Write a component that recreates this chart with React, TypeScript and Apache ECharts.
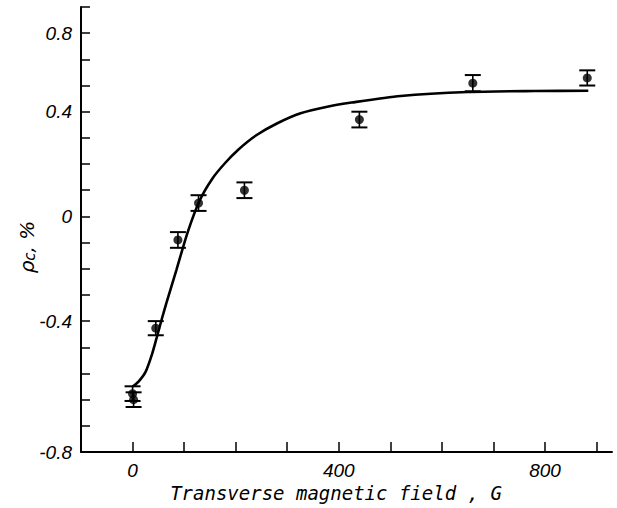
import React, { useEffect, useRef } from "react";
import * as echarts from "echarts";

// Measured points (x in G, y in %), with symmetric error
const pointX = [0, 2, 45, 88, 128, 217, 440, 660, 882];
const pointY = [-0.677, -0.7, -0.427, -0.09, 0.051, 0.1, 0.37, 0.509, 0.529];
const pointErr = [0.028, 0.028, 0.027, 0.03, 0.03, 0.03, 0.03, 0.031, 0.029];

// Fitted curve
const curveX = [0, 12, 25, 38, 48, 57, 65, 85, 107, 130, 155, 180, 205, 240, 280, 326, 380, 425, 520, 650, 780, 884];
const curveY = [-0.65, -0.63, -0.595, -0.525, -0.455, -0.39, -0.335, -0.205, -0.06, 0.06, 0.145, 0.205, 0.255, 0.31, 0.355, 0.394, 0.42, 0.435, 0.46, 0.475, 0.479, 0.48];

// Axis ticks and labels
const xTickValues = [0, 100, 200, 300, 400, 500, 600, 700, 800, 900];
const xLabelValues = [0, 400, 800];
const yTickValues = [-0.9, -0.8, -0.7, -0.6, -0.5, -0.4, -0.3, -0.2, -0.1, 0, 0.1, 0.2, 0.3, 0.4, 0.5, 0.6, 0.7, 0.8];
const yLabelValues = [-0.9, -0.4, 0, 0.4, 0.7];
const yLabelTexts = ["-0.8", "-0.4", "0", "0.4", "0.8"];

const labelFont = "'Liberation Sans', Arial, sans-serif";

export default function App() {
  const ref = useRef<HTMLDivElement>(null);
  useEffect(() => {
    if (!ref.current) return;
    const chart = echarts.init(ref.current, null, { renderer: "svg" });
    const errData = pointX.map((x, i) => [x, pointY[i] - pointErr[i], pointY[i] + pointErr[i]]);
    const scatterData = pointX.map((x, i) => [x, pointY[i]]);
    const curveData = curveX.map((x, i) => [x, curveY[i]]);
    chart.setOption({
      animation: false,
      backgroundColor: "#fff",
      grid: { left: 81, right: 5, top: 7, bottom: 56, containLabel: false },
      xAxis: {
        type: "value",
        min: -100,
        max: 930,
        interval: 100,
        splitLine: { show: false },
        axisLine: { onZero: false, lineStyle: { color: "#000", width: 2 } },
        axisTick: {
          inside: true,
          length: 10,
          customValues: xTickValues,
          lineStyle: { color: "#000", width: 1.5 },
        },
        axisLabel: {
          customValues: xLabelValues,
          margin: 9,
          color: "#000",
          fontSize: 19,
          fontStyle: "italic",
          fontFamily: labelFont,
        },
      },
      yAxis: {
        type: "value",
        min: -0.9,
        max: 0.8,
        interval: 0.1,
        splitLine: { show: false },
        axisLine: { onZero: false, lineStyle: { color: "#000", width: 2 } },
        axisTick: {
          inside: true,
          length: 9,
          customValues: yTickValues,
          lineStyle: { color: "#000", width: 1.5 },
        },
        axisLabel: {
          customValues: yLabelValues,
          margin: 9,
          color: "#000",
          fontSize: 19,
          fontStyle: "italic",
          fontFamily: labelFont,
          formatter: (v: number) => {
            const i = yLabelValues.findIndex((u) => Math.abs(u - v) < 1e-6);
            return i >= 0 ? yLabelTexts[i] : "";
          },
        },
      },
      graphic: [
        {
          type: "text",
          x: 336,
          y: 493,
          style: {
            text: "Transverse magnetic field , G",
            font: "italic 19px 'DejaVu Sans Mono', monospace",
            fill: "#000",
            align: "center",
            verticalAlign: "middle",
          },
        },
        {
          type: "text",
          x: 27,
          y: 247,
          rotation: Math.PI / 2,
          style: {
            text: "{a|ρ}{b|c}{a|, %}",
            fill: "#000",
            align: "center",
            verticalAlign: "middle",
            rich: {
              a: { fontSize: 20, fontStyle: "italic", fontFamily: "'DejaVu Sans', sans-serif", fill: "#000" },
              b: { fontSize: 15, fontStyle: "italic", fontFamily: "'DejaVu Sans', sans-serif", fill: "#000", verticalAlign: "bottom" },
            },
          },
        },
      ],
      series: [
        {
          type: "line",
          data: curveData,
          smooth: 0.25,
          showSymbol: false,
          symbol: "none",
          lineStyle: { color: "#000", width: 2.6 },
          z: 2,
        },
        {
          type: "custom",
          data: errData,
          encode: { x: 0, y: [1, 2] },
          z: 3,
          renderItem: (params: any, api: any) => {
            const x = api.value(0);
            const lo = api.coord([x, api.value(1)]);
            const hi = api.coord([x, api.value(2)]);
            const hw = 8;
            const st = { stroke: "#000", lineWidth: 1.6 };
            return {
              type: "group",
              children: [
                { type: "line", shape: { x1: lo[0], y1: lo[1], x2: hi[0], y2: hi[1] }, style: st },
                { type: "line", shape: { x1: lo[0] - hw, y1: lo[1], x2: lo[0] + hw, y2: lo[1] }, style: { stroke: "#000", lineWidth: 2 } },
                { type: "line", shape: { x1: hi[0] - hw, y1: hi[1], x2: hi[0] + hw, y2: hi[1] }, style: { stroke: "#000", lineWidth: 2 } },
              ],
            };
          },
        },
        {
          type: "scatter",
          data: scatterData,
          symbol: "circle",
          symbolSize: 9,
          itemStyle: { color: "#000" },
          z: 4,
        },
      ],
    });
    return () => chart.dispose();
  }, []);
  return (
    <div
      ref={ref}
      style={{ position: "fixed", left: 0, top: 0, width: 617, height: 508, background: "#fff" }}
    />
  );
}
